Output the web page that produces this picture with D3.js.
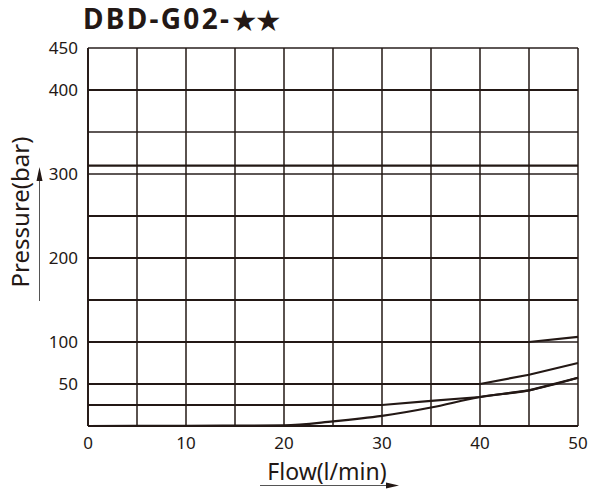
<!DOCTYPE html>
<html>
<head>
<meta charset="utf-8">
<script src="https://cdn.jsdelivr.net/npm/d3@7"></script>
<style>
  html, body { margin: 0; padding: 0; background: #fff; }
  svg text { font-family: "Noto Sans", "Noto Sans CJK SC", sans-serif; fill: #231815; }
</style>
</head>
<body>
<svg id="chart" width="591" height="491"></svg>
<script>
// values
var TITLE = "DBD-G02-";
var TITLE_MARK = "\u2605\u2605";
var flowTicks = [0, 10, 20, 30, 40, 50];
var pressureTicks = [450, 400, 300, 200, 100, 50];
var flowGrid = [0, 5, 10, 15, 20, 25, 30, 35, 40, 45, 50];
var pressureGrid = [0, 50, 100, 150, 200, 250, 300, 350, 400, 450];

// flat pressure settings (bar)
var flatSettings = [400, 310, 250, 200, 150];

// settings that rise at high flow
var flow100 = [0, 45, 50];
var pres100 = [100, 100, 106];
var flow50 = [0, 40, 45, 50];
var pres50 = [50, 50, 61, 75];
var flow25 = [0, 30, 35, 40, 45, 50];
var pres25 = [25, 25, 30, 34.5, 42.5, 57.5];
// minimum pressure curve
var flowMin = [0, 10, 20, 25, 30, 35, 40, 45, 50];
var presMin = [0, 0.2, 0.8, 5.5, 12, 22, 34.5, 42.5, 57.5];

var margin = { top: 48, right: 13, bottom: 65, left: 88 },
    width = 591 - margin.left - margin.right,
    height = 491 - margin.top - margin.bottom;

var svg = d3.select("#chart");

var x = d3.scaleLinear().domain([0, 50]).range([0, width]);
var y = d3.scaleLinear().domain([0, 450]).range([height, 0]);

var g = svg.append("g")
    .attr("transform", "translate(" + margin.left + "," + margin.top + ")");

// title
var title = svg.append("text")
    .attr("x", 83)
    .attr("y", 29)
    .attr("font-size", 28)
    .attr("font-weight", "bold")
    .attr("letter-spacing", 2.3);
title.append("tspan").text(TITLE);
title.append("tspan")
    .attr("font-family", "'Noto Sans CJK SC', sans-serif")
    .attr("font-size", 24)
    .attr("letter-spacing", 0)
    .attr("dx", 1)
    .text(TITLE_MARK);

// grid
g.selectAll(".hgrid")
    .data(pressureGrid)
    .enter().append("line")
    .attr("class", "hgrid")
    .attr("x1", 0)
    .attr("x2", width)
    .attr("y1", function(d) { return y(d); })
    .attr("y2", function(d) { return y(d); })
    .attr("stroke", "#5e5756")
    .attr("stroke-width", 1.8);

g.selectAll(".vgrid")
    .data(flowGrid)
    .enter().append("line")
    .attr("class", "vgrid")
    .attr("x1", function(d) { return x(d); })
    .attr("x2", function(d) { return x(d); })
    .attr("y1", 0)
    .attr("y2", height)
    .attr("stroke", "#231815")
    .attr("stroke-width", 1.5);

// curves
function toPoints(fs, ps) {
    return fs.map(function(f, i) { return [f, ps[i]]; });
}

var series = flatSettings.map(function(p) { return toPoints([0, 50], [p, p]); });
series.push(toPoints(flow100, pres100));
series.push(toPoints(flow50, pres50));
series.push(toPoints(flow25, pres25));

var line = d3.line()
    .x(function(d) { return x(d[0]); })
    .y(function(d) { return y(d[1]); });

g.selectAll(".curve")
    .data(series)
    .enter().append("path")
    .attr("class", "curve")
    .attr("d", line)
    .attr("fill", "none")
    .attr("stroke", "#231815")
    .attr("stroke-width", 2.2);

g.append("path")
    .datum(toPoints(flowMin, presMin))
    .attr("d", line.curve(d3.curveMonotoneX))
    .attr("fill", "none")
    .attr("stroke", "#231815")
    .attr("stroke-width", 2.2);

// axis frame
g.append("line").attr("x1", 0).attr("x2", 0).attr("y1", 0).attr("y2", height)
    .attr("stroke", "#231815").attr("stroke-width", 1.8);
g.append("line").attr("x1", 0).attr("x2", width).attr("y1", height).attr("y2", height)
    .attr("stroke", "#231815").attr("stroke-width", 2);

// tick labels
g.selectAll(".ylab")
    .data(pressureTicks)
    .enter().append("text")
    .attr("class", "ylab")
    .attr("x", -10)
    .attr("y", function(d) { return y(d); })
    .attr("dy", "0.36em")
    .attr("text-anchor", "end")
    .attr("font-size", 17)
    .text(function(d) { return d; });

g.selectAll(".xlab")
    .data(flowTicks)
    .enter().append("text")
    .attr("class", "xlab")
    .attr("x", function(d) { return x(d); })
    .attr("y", height + 17)
    .attr("dy", "0.36em")
    .attr("text-anchor", "middle")
    .attr("font-size", 17)
    .text(function(d) { return d; });

// axis titles with arrows
svg.append("text")
    .attr("x", 327)
    .attr("y", 480)
    .attr("text-anchor", "middle")
    .attr("font-size", 23)
    .text("Flow(l/min)");

svg.append("line")
    .attr("x1", 260).attr("x2", 388).attr("y1", 485.5).attr("y2", 485.5)
    .attr("stroke", "#555").attr("stroke-width", 1);
svg.append("path")
    .attr("d", "M386,482.5 L399,485.5 L386,488.5 Z")
    .attr("fill", "#231815");

svg.append("text")
    .attr("transform", "translate(29,212) rotate(-90)")
    .attr("text-anchor", "middle")
    .attr("font-size", 24)
    .text("Pressure(bar)");

svg.append("line")
    .attr("x1", 39.5).attr("x2", 39.5).attr("y1", 301).attr("y2", 178)
    .attr("stroke", "#555").attr("stroke-width", 1);
svg.append("path")
    .attr("d", "M36.5,181 L39.5,167 L42.5,181 Z")
    .attr("fill", "#231815");
</script>
</body>
</html>
